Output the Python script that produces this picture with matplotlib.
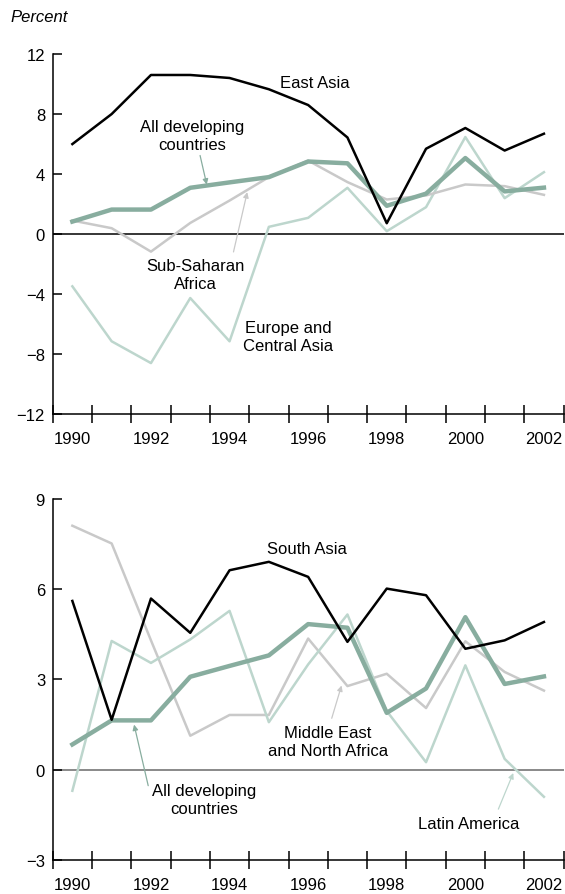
import matplotlib
matplotlib.use("Agg")
import matplotlib.pyplot as plt
import numpy as np

plt.rcParams['font.family'] = ['Liberation Sans', 'DejaVu Sans']

years = list(range(1990, 2003))

# growth rates, percent
all_developing = [0.84, 1.64, 1.64, 3.09, 3.45, 3.8, 4.84, 4.72, 1.89, 2.7, 5.07, 2.85, 3.1]
east_asia = [6.0, 8.0, 10.6, 10.6, 10.4, 9.65, 8.6, 6.44, 0.73, 5.69, 7.07, 5.57, 6.69]
sub_saharan = [0.91, 0.4, -1.16, 0.75, 2.24, 3.8, 4.9, 3.47, 2.31, 2.58, 3.31, 3.2, 2.62]
europe_ca = [-3.47, -7.13, -8.58, -4.25, -7.13, 0.49, 1.09, 3.09, 0.2, 1.8, 6.47, 2.4, 4.13]

south_asia = [5.61, 1.66, 5.69, 4.55, 6.63, 6.91, 6.41, 4.25, 6.02, 5.8, 4.02, 4.3, 4.91]
mena = [8.11, 7.52, 4.3, 1.13, 1.82, 1.82, 4.36, 2.78, 3.19, 2.05, 4.27, 3.25, 2.63]
latin_america = [-0.7, 4.28, 3.55, 4.33, 5.28, 1.58, 3.5, 5.16, 1.95, 0.25, 3.47, 0.36, -0.9]

top_yticks = [-12, -8, -4, 0, 4, 8, 12]
bottom_yticks = [-3, 0, 3, 6, 9]

c_black = '#000000'
c_green = '#88ad9f'
c_light = '#bdd6cd'
c_gray = '#c9c9c9'
fs = 12

fig = plt.figure(figsize=(5.65, 8.95), dpi=100)
ax1 = fig.add_axes([0.0933, 0.5358, 0.9042, 0.4028])
ax2 = fig.add_axes([0.0933, 0.0380, 0.9042, 0.4034])


def style(ax, yticks, zero_color):
    ax.set_xlim(1989.5, 2002.5)
    ax.set_ylim(yticks[0], yticks[-1])
    for s in ['top', 'right']:
        ax.spines[s].set_visible(False)
    for s in ['left', 'bottom']:
        ax.spines[s].set_linewidth(1.1)
    ax.axhline(0, color=zero_color, lw=1.1, zorder=1)
    ax.set_yticks(yticks)
    ax.set_yticklabels([str(v).replace('-', '\u2212') for v in yticks], fontsize=fs)
    ax.tick_params(axis='y', direction='in', length=6.5, width=1.1, pad=5.5)
    # tick marks sit between years, labels under every other year
    ax.set_xticks(np.arange(1989.5, 2003, 1))
    ax.set_xticklabels([])
    ax.tick_params(axis='x', which='major', direction='inout', length=13, width=1.1)
    ax.set_xticks(np.arange(1990, 2003, 2), minor=True)
    ax.set_xticklabels([str(y) for y in range(1990, 2003, 2)], minor=True, fontsize=fs)
    ax.tick_params(axis='x', which='minor', length=0, pad=12)


style(ax1, top_yticks, c_black)
style(ax2, bottom_yticks, '#6a6a6a')

ax1.plot(years, europe_ca, color=c_light, lw=1.8, zorder=2)
ax1.plot(years, sub_saharan, color=c_gray, lw=1.8, zorder=3)
ax1.plot(years, all_developing, color=c_green, lw=3.2, zorder=4)
ax1.plot(years, east_asia, color=c_black, lw=1.8, zorder=5)

ax2.plot(years, mena, color=c_gray, lw=1.8, zorder=2)
ax2.plot(years, latin_america, color=c_light, lw=1.8, zorder=3)
ax2.plot(years, all_developing, color=c_green, lw=3.2, zorder=4)
ax2.plot(years, south_asia, color=c_black, lw=1.8, zorder=5)


def arrow(ax, xy, xytext, color):
    ax.annotate('', xy=xy, xytext=xytext,
                arrowprops=dict(arrowstyle='-|>', color=color, lw=0.9,
                                mutation_scale=8, shrinkA=0, shrinkB=0))


def label(ax, x, y, text, ha='center'):
    ax.text(x, y, text, fontsize=fs, ha=ha, va='center', linespacing=1.25)


# top panel labels
label(ax1, 1995.28, 10.13, 'East Asia', ha='left')
label(ax1, 1993.04, 6.6, 'All developing\ncountries')
arrow(ax1, (1993.42, 3.3), (1993.25, 5.24), c_green)
label(ax1, 1993.13, -2.68, 'Sub-Saharan\nAfrica')
arrow(ax1, (1994.45, 2.8), (1994.1, -1.18), c_gray)
label(ax1, 1995.5, -6.83, 'Europe and\nCentral Asia')

# bottom panel labels
label(ax2, 1994.95, 7.36, 'South Asia', ha='left')
label(ax2, 1996.5, 0.94, 'Middle East\nand North Africa')
arrow(ax2, (1996.85, 2.8), (1996.6, 1.71), c_gray)
label(ax2, 1993.36, -1.0, 'All developing\ncountries')
arrow(ax2, (1991.57, 1.5), (1991.93, -0.53), c_green)
label(ax2, 2000.09, -1.78, 'Latin America')
arrow(ax2, (2001.22, -0.11), (2000.84, -1.31), c_light)

fig.text(10 / 565, 1 - 18 / 895, 'Percent', fontsize=12, style='italic', ha='left', va='center')

fig.savefig('out.png', dpi=100)
